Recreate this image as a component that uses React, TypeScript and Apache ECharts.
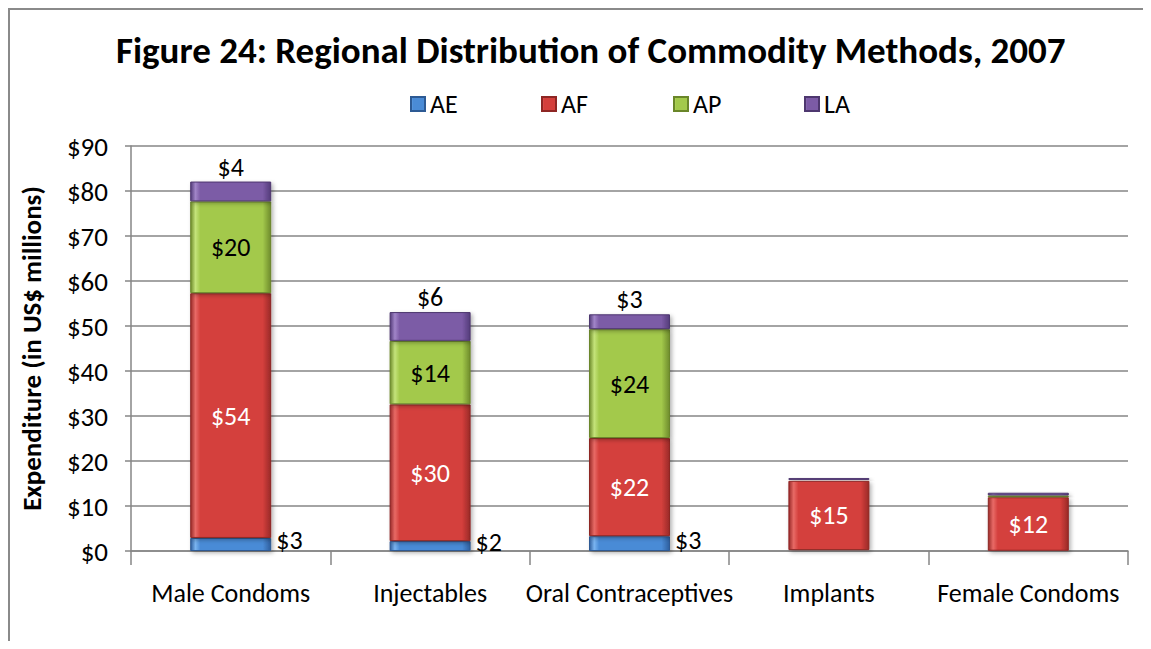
import React, { useEffect, useRef } from "react";
import * as echarts from "echarts";

const categories = ["Male Condoms", "Injectables", "Oral Contraceptives", "Implants", "Female Condoms"];
const seriesNames = ["AE", "AF", "AP", "LA"];
const aeValues = [2.9, 2.2, 3.3, 0.2, 0.05];
const afValues = [54.4, 30.4, 21.8, 15.4, 11.9];
const apValues = [20.4, 14.1, 24.2, 0.2, 0.4];
const laValues = [4.4, 6.4, 3.3, 0.4, 0.6];
const yTicks = [0, 10, 20, 30, 40, 50, 60, 70, 80, 90];

const FONT = "Carlito, Lato, 'Open Sans', sans-serif";

function grad(edge: string, base: string, light: string) {
  return new echarts.graphic.LinearGradient(0, 0, 1, 0, [
    { offset: 0, color: edge },
    { offset: 0.06, color: light },
    { offset: 0.12, color: base },
    { offset: 0.9, color: base },
    { offset: 1, color: edge },
  ]);
}

export default function App() {
  const ref = useRef<HTMLDivElement>(null);
  useEffect(() => {
    if (!ref.current) return;
    const chart = echarts.init(ref.current, undefined, { renderer: "svg" });
    const styles = [
      { c: grad("#2f5f9e", "#4a8bd6", "#7ab4f0"), b: "#2d5a94", lab: "right", color: "#000" },
      { c: grad("#9a2a28", "#d43f3c", "#e86a66"), b: "#8e2624", lab: "inside", color: "#fff" },
      { c: grad("#6f8c2c", "#a3c94b", "#c4e37a"), b: "#6a8629", lab: "inside", color: "#000" },
      { c: grad("#543c7a", "#7c5ba6", "#a185c8"), b: "#4e376f", lab: "top", color: "#000" },
    ];
    const data = [aeValues, afValues, apValues, laValues];
    const series = seriesNames.map((name, i) => ({
      name,
      type: "bar",
      stack: "total",
      barWidth: 81,
      data: data[i],
      itemStyle: {
        color: styles[i].c,
        borderColor: styles[i].b,
        borderWidth: 1,
        shadowColor: "rgba(0,0,0,0.3)",
        shadowBlur: 4,
        shadowOffsetX: 2,
        shadowOffsetY: 2,
      },
      label: {
        show: true,
        position: styles[i].lab,
        distance: i === 0 ? 5 : 2,
        offset: i === 0 ? [0, -4] : [0, 0],
        color: styles[i].color,
        fontSize: 26,
        fontFamily: FONT,
        formatter: (p: any) => (p.value >= 1 ? "$" + Math.round(p.value) : ""),
      },
    }));
    const legendLefts = [400, 531, 663, 794];
    const legends = seriesNames.map((n, i) => ({
      data: [n],
      left: legendLefts[i],
      top: 81,
      padding: 0,
      icon: "rect",
      itemWidth: 14,
      itemHeight: 14,
      itemGap: 6,
      textStyle: { fontSize: 26, fontFamily: FONT, color: "#000" },
    }));
    chart.setOption({
      animation: false,
      backgroundColor: "#fff",
      title: {
        text: "Figure 24: Regional Distribution of Commodity Methods, 2007",
        left: 101,
        top: 17,
        textStyle: { fontSize: 37, fontWeight: "bold", fontFamily: FONT, color: "#000" },
      },
      legend: legends,
      grid: { left: 118, right: 15, top: 136, bottom: 90, containLabel: false },
      xAxis: {
        type: "category",
        data: categories,
        axisLine: { lineStyle: { color: "#868686", width: 1.5 } },
        axisTick: { show: true, length: 14, lineStyle: { color: "#868686", width: 1.5 } },
        axisLabel: { fontSize: 26, fontFamily: FONT, color: "#000", margin: 29, interval: 0 },
      },
      yAxis: {
        type: "value",
        min: yTicks[0],
        max: yTicks[yTicks.length - 1],
        interval: 10,
        name: "Expenditure (in US$ millions)",
        nameLocation: "middle",
        nameGap: 86,
        nameTextStyle: { fontSize: 27, fontWeight: "bold", fontFamily: FONT, color: "#000" },
        axisLine: { show: true, lineStyle: { color: "#868686", width: 1.5 } },
        axisTick: { show: true, length: 6, lineStyle: { color: "#868686", width: 1.5 } },
        axisLabel: { fontSize: 27, fontFamily: FONT, color: "#000", margin: 23, formatter: (v: number) => "$" + v },
        splitLine: { lineStyle: { color: "#868686", width: 1.5 } },
      },
      series,
    });
    return () => chart.dispose();
  }, []);
  return (
    <div
      style={{
        width: 1135,
        height: 633,
        borderLeft: "2px solid #8a8a8a",
        borderTop: "2px solid #8a8a8a",
        boxSizing: "border-box",
        overflow: "hidden",
      }}
    >
      <div ref={ref} style={{ width: 1133, height: 631 }} />
    </div>
  );
}
